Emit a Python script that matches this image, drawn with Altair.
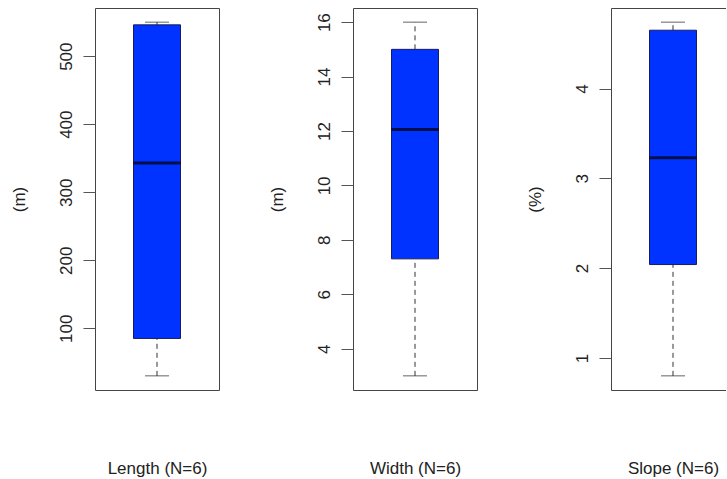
import altair as alt
import pandas as pd

# Data (five-number summaries)
labels = ["Length (N=6)", "Width (N=6)", "Slope (N=6)"]
units = ["(m)", "(m)", "(%)"]
mins = [30, 3.0, 0.80]
q1s = [85, 7.3, 2.04]
medians = [343, 12.05, 3.23]
q3s = [546, 15.0, 4.65]
maxs = [550, 16.0, 4.74]
tick_sets = [[100, 200, 300, 400, 500], [4, 6, 8, 10, 12, 14, 16], [1, 2, 3, 4]]

FONT = "Liberation Sans"
W, H = 124, 382
BOX_BLUE = "#0033FF"


def panel(i):
    lo, hi = mins[i], maxs[i]
    ext = (hi - lo) * 0.04
    df = pd.DataFrame({
        "cat": [labels[i]],
        "min": [mins[i]], "q1": [q1s[i]], "med": [medians[i]],
        "q3": [q3s[i]], "max": [maxs[i]],
    })
    yscale = alt.Scale(domain=[lo - ext, hi + ext], nice=False, zero=False)
    xenc = alt.X(
        "cat:N",
        scale=alt.Scale(paddingInner=0, paddingOuter=0),
        axis=alt.Axis(
            labels=False, ticks=False, domain=False, title=labels[i],
            titleFont=FONT, titleFontSize=17, titleFontWeight="normal",
            titleColor="#222", titleBaseline="middle", titleY=78,
        ),
    )
    yaxis = alt.Axis(
        values=tick_sets[i], format=".0f", title=units[i], grid=False, domain=False,
        tickSize=12, tickColor="#555", labelAngle=-90, labelAlign="center",
        labelBaseline="bottom", labelPadding=8, labelFont=FONT,
        labelFontSize=17, labelColor="#222",
        titleFont=FONT, titleFontSize=17, titleFontWeight="normal",
        titleColor="#222", titleAngle=-90, titleAlign="center",
        titleBaseline="middle", titleX=-76, titleY=H / 2,
    )
    base = alt.Chart(df).encode(x=xenc)
    whisk_lo = base.mark_rule(color="#333", strokeDash=[5, 4], strokeWidth=1).encode(
        y=alt.Y("min:Q", scale=yscale, axis=yaxis), y2="q1:Q")
    whisk_hi = base.mark_rule(color="#333", strokeDash=[5, 4], strokeWidth=1).encode(
        y=alt.Y("q3:Q", scale=yscale), y2="max:Q")
    cap_lo = base.mark_tick(color="#222", size=24, thickness=1).encode(
        y=alt.Y("min:Q", scale=yscale))
    cap_hi = base.mark_tick(color="#222", size=24, thickness=1).encode(
        y=alt.Y("max:Q", scale=yscale))
    box = base.mark_bar(size=47, color=BOX_BLUE, stroke="#1a1a60",
                        strokeWidth=1).encode(
        y=alt.Y("q1:Q", scale=yscale), y2="q3:Q")
    med = base.mark_tick(color="black", size=47, thickness=3).encode(
        y=alt.Y("med:Q", scale=yscale))
    return alt.layer(whisk_lo, whisk_hi, cap_lo, cap_hi, box, med).properties(
        width=W, height=H)


chart = alt.hconcat(panel(0), panel(1), panel(2), spacing=134, bounds="flush").properties(
    padding={"left": 9, "top": 7, "right": -10, "bottom": 0},
    background="white",
).configure_view(stroke="#444", strokeWidth=1)

chart.save("out.html", embed_options={"renderer": "svg", "actions": False})
